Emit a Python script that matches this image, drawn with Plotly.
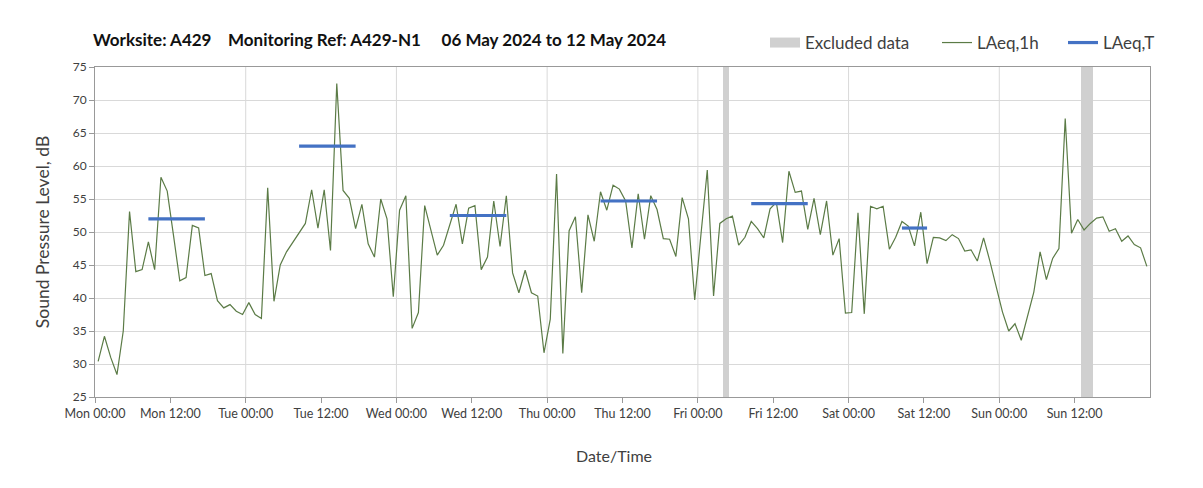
import plotly.graph_objects as go

# ---------------- data ----------------
day_names = ["Mon", "Tue", "Wed", "Thu", "Fri", "Sat", "Sun"]
tick_hours = list(range(0, 168, 12))
tick_labels = [f"{day_names[h // 24]} {h % 24:02d}:00" for h in tick_hours]

hours = list(range(168))  # hourly categories, Mon 00:00 .. Sun 23:00

laeq_1h = [
    30.4, 34.2, 31.0, 28.4, 35.0, 53.1, 44.0, 44.3, 48.5, 44.3, 58.3, 56.2,
    49.5, 42.6, 43.1, 51.0, 50.6, 43.4, 43.7, 39.6, 38.5, 39.0, 38.0, 37.5,
    39.3, 37.5, 36.9, 56.7, 39.5, 45.0, 47.0, 48.5, 50.0, 51.3, 56.4, 50.6,
    56.4, 47.2, 72.5, 56.3, 55.1, 50.5, 54.2, 48.2, 46.2, 55.0, 52.0, 40.2,
    53.3, 55.5, 35.4, 37.8, 54.0, 50.3, 46.5, 48.0, 51.3, 54.2, 48.2, 53.6,
    54.0, 44.3, 46.2, 54.7, 47.8, 55.5, 43.8, 40.8, 44.2, 40.8, 40.3, 31.7,
    36.8, 58.8, 31.6, 50.2, 52.3, 40.8, 52.6, 48.6, 56.1, 53.3, 57.1, 56.5,
    54.7, 47.6, 55.8, 48.9, 55.5, 53.4, 49.0, 48.9, 46.3, 55.2, 52.0, 39.7,
    49.7, 59.4, 40.3, 51.3, 52.0, 52.4, 48.0, 49.2, 51.6, 50.5, 49.1, 53.5,
    54.5, 48.4, 59.2, 56.0, 56.2, 50.4, 55.1, 49.6, 54.7, 46.5, 49.0, 37.7,
    37.8, 52.9, 37.6, 53.9, 53.5, 53.9, 47.4, 49.2, 51.6, 50.9, 47.9, 53.0,
    45.2, 49.2, 49.1, 48.7, 49.6, 49.0, 47.1, 47.3, 45.6, 49.1, 45.6, 41.9,
    37.9, 35.0, 36.1, 33.6, 37.4, 40.9, 47.0, 42.8, 46.0, 47.5, 67.2, 49.8,
    51.9, 50.3, 51.3, 52.1, 52.3, 50.1, 50.5, 48.6, 49.4, 48.1, 47.6, 44.8,
]

# LAeq,T daytime periods (first hour, last hour, level)
laeqT_start = [8, 32, 56, 80, 104, 128]
laeqT_end = [17, 41, 65, 89, 113, 132]
laeqT_value = [52.0, 63.0, 52.5, 54.7, 54.3, 50.6]

# Excluded data periods (start hour, end hour)
excl_start = [100, 157]
excl_end = [101, 159]

Y_MIN, Y_MAX = 25, 75

# ---------------- figure ----------------
FONT = "Lato"
W, H = 1203, 488
OFF = 8  # page body margin in the browser

fig = go.Figure()

fig.add_trace(go.Bar(
    x=[(s + e) / 2 for s, e in zip(excl_start, excl_end)],
    y=[Y_MAX - Y_MIN] * len(excl_start),
    base=[Y_MIN] * len(excl_start),
    width=[e - s for s, e in zip(excl_start, excl_end)],
    marker=dict(color="#d0d0d0", line=dict(width=0)),
    name="Excluded data",
    showlegend=False,
    hoverinfo="skip",
))
# legend proxy for the excluded-data band (wide grey rectangle)
fig.add_trace(go.Scatter(
    x=[None], y=[None], mode="lines",
    line=dict(color="#d0d0d0", width=13),
    name="Excluded data", legend="legend",
))

fig.add_trace(go.Scatter(
    x=[h + 0.5 for h in hours],
    y=laeq_1h,
    mode="lines",
    line=dict(color="#5b7b46", width=1.2),
    name="LAeq,1h", legend="legend2",
))

bx, by = [], []
for s, e, v in zip(laeqT_start, laeqT_end, laeqT_value):
    bx += [s + 0.5, e + 0.5, None]
    by += [v, v, None]
fig.add_trace(go.Scatter(
    x=bx, y=by, mode="lines",
    line=dict(color="#4472c4", width=3.2),
    name="LAeq,T", legend="legend3",
))

nb = "\u00a0"
title_text = ("Worksite: A429" + nb * 4 + "Monitoring Ref: A429-N1" + nb * 5 +
              "06 May 2024 to 12 May 2024")


def leg(x_text):
    return dict(orientation="h", xref="container", yref="container",
                x=(x_text - 40 - OFF) / W, xanchor="left",
                y=1 - (43 - OFF) / H, yanchor="middle",
                font=dict(size=17, color="#404040", family=FONT),
                bgcolor="rgba(0,0,0,0)")


fig.update_layout(
    width=W, height=H,
    margin=dict(l=95 - OFF, r=W - (1150 - OFF), t=67 - OFF, b=H - (397 - OFF), autoexpand=False),
    paper_bgcolor="white", plot_bgcolor="white",
    font=dict(family=FONT, color="#404040"),
    title=dict(text="<b>" + title_text + "</b>", xref="container", yref="container",
               x=(93 - OFF) / W, xanchor="left", y=1 - (40 - OFF) / H, yanchor="middle",
               font=dict(size=17, color="#111111", family=FONT)),
    legend=leg(805),
    legend2=leg(977),
    legend3=leg(1103),
    showlegend=True,
    bargap=0,
)

fig.update_xaxes(
    range=[0, 168], automargin=False,
    tickmode="array", tickvals=tick_hours, ticktext=tick_labels,
    ticks="outside", ticklen=5, tickcolor="#999999",
    tickfont=dict(size=12.5, color="#404040"),
    showgrid=False,
    showline=True, linecolor="#999999", linewidth=1, mirror=True,
    zeroline=False,
)
fig.update_yaxes(
    range=[Y_MIN, Y_MAX], dtick=5, automargin=False,
    ticks="outside", ticklen=5, tickcolor="#999999",
    tickfont=dict(size=12, color="#404040"),
    showgrid=True, gridcolor="#d9d9d9", gridwidth=1,
    showline=True, linecolor="#999999", linewidth=1, mirror=True,
    zeroline=False,
    title=dict(text="Sound Pressure Level, dB", font=dict(size=17.5, color="#404040"), standoff=18),
)

# x-axis title (centred on the chart area as in the original)
fig.add_annotation(
    text="Date/Time", xref="paper", yref="paper",
    x=(614 - 95) / 1055, y=-(455 - 397) / 330, xanchor="center", yanchor="middle",
    showarrow=False, font=dict(size=16, color="#404040", family=FONT),
)

# daily vertical gridlines (00:00 each day)
for d in range(1, 7):
    fig.add_shape(type="line", xref="x", yref="y", x0=d * 24, x1=d * 24,
                  y0=Y_MIN, y1=Y_MAX, line=dict(color="#d9d9d9", width=1), layer="below")

# faint outer chart border on the left
fig.add_shape(type="line", xref="paper", yref="paper",
              x0=-(95 - 4) / 1055, x1=-(95 - 4) / 1055,
              y0=-2, y1=2, line=dict(color="#dddddd", width=1))

fig.write_html("out.html")
